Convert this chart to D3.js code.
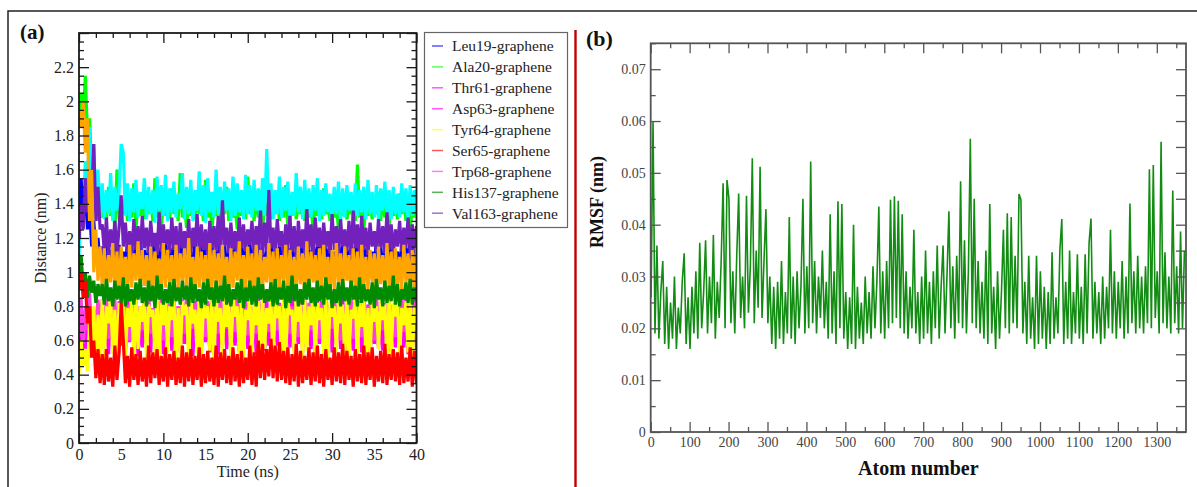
<!DOCTYPE html>
<html><head><meta charset="utf-8">
<script src="https://cdn.jsdelivr.net/npm/d3@7"></script>
<style>body{margin:0;background:#fff}svg{display:block}</style>
</head><body>
<svg id="c" width="1197" height="487"></svg>
<script>
// ---------------- Panel (a) data: distance (nm) vs time, sampled every 0.25 ns ----------------
const timeStep = 0.25;
const timeLabels = [0,5,10,15,20,25,30,35,40];
const timeMajorTicks = [0,10,20,30,40];
const distLabels = [0,0.2,0.4,0.6,0.8,1,1.2,1.4,1.6,1.8,2,2.2];

const ala20 = [1.85,2.05,1.90,2.15,1.80,1.90,1.60,1.40,1.55,1.30,1.45,
1.32,1.44,1.30,1.50,1.33,1.45,1.24,1.60,1.31,1.42,
1.34,1.47,1.30,1.40,1.32,1.52,1.25,1.43,1.33,1.41,
1.31,1.46,1.34,1.42,1.30,1.55,1.32,1.40,1.23,1.45,
1.33,1.39,1.31,1.49,1.34,1.42,1.30,1.58,1.32,1.40,
1.26,1.44,1.33,1.41,1.31,1.47,1.34,1.42,1.30,1.54,
1.32,1.43,1.24,1.40,1.33,1.46,1.31,1.41,1.34,1.50,
1.30,1.42,1.32,1.39,1.25,1.45,1.33,1.41,1.31,1.56,
1.34,1.40,1.30,1.44,1.32,1.48,1.23,1.41,1.33,1.43,
1.31,1.39,1.34,1.46,1.30,1.42,1.32,1.51,1.26,1.40,
1.33,1.44,1.31,1.41,1.34,1.47,1.30,1.42,1.32,1.39,
1.24,1.45,1.33,1.41,1.31,1.49,1.34,1.40,1.30,1.43,
1.32,1.40,1.25,1.46,1.33,1.42,1.31,1.39,1.34,1.44,
1.30,1.63,1.32,1.41,1.23,1.45,1.33,1.42,1.31,1.40,
1.34,1.47,1.30,1.43,1.32,1.40,1.26,1.44,1.33,1.41,
1.31,1.46,1.34,1.42,1.30,1.43,1.24,1.40,1.32,1.45];

const unlabeledCyan = [1.10,1.45,1.30,1.65,1.50,1.85,1.40,1.75,1.35,1.60,1.32,
1.52,1.31,1.48,1.34,1.58,1.30,1.50,1.36,1.47,1.75,
1.70,1.33,1.52,1.30,1.49,1.35,1.54,1.32,1.47,1.37,
1.55,1.31,1.50,1.34,1.48,1.29,1.56,1.36,1.51,1.33,
1.57,1.30,1.49,1.35,1.53,1.32,1.46,1.37,1.58,1.31,
1.50,1.34,1.54,1.30,1.48,1.36,1.59,1.33,1.51,1.29,
1.55,1.35,1.47,1.32,1.60,1.34,1.50,1.31,1.53,1.36,
1.49,1.30,1.56,1.33,1.52,1.35,1.48,1.31,1.57,1.34,
1.51,1.32,1.54,1.36,1.49,1.30,1.55,1.33,1.72,1.35,
1.52,1.31,1.48,1.34,1.56,1.32,1.50,1.36,1.53,1.30,
1.47,1.33,1.58,1.35,1.50,1.31,1.54,1.34,1.49,1.32,
1.51,1.36,1.55,1.30,1.48,1.33,1.52,1.35,1.46,1.31,
1.50,1.34,1.53,1.29,1.49,1.32,1.51,1.36,1.47,1.30,
1.52,1.33,1.48,1.35,1.50,1.31,1.54,1.34,1.47,1.32,
1.51,1.30,1.49,1.36,1.53,1.33,1.48,1.31,1.50,1.34,
1.46,1.32,1.52,1.35,1.49,1.30,1.51,1.33,1.48,1.32];

const leu19 = [1.20,1.55,1.30,1.50,1.25,1.40,1.15,1.30,1.10,1.20,1.05,
1.15,1.03,1.18,1.00,1.13,1.06,1.20,1.02,1.16,1.04,
1.12,1.01,1.19,1.05,1.14,0.99,1.17,1.03,1.21,1.06,
1.13,1.00,1.16,1.04,1.18,1.02,1.12,1.07,1.15,1.01,
1.19,1.03,1.14,1.05,1.17,0.98,1.13,1.04,1.20,1.02,
1.16,1.06,1.12,1.00,1.18,1.03,1.15,1.05,1.21,1.01,
1.14,1.04,1.17,0.99,1.13,1.06,1.19,1.02,1.16,1.03,
1.12,1.05,1.18,1.00,1.15,1.04,1.20,1.02,1.13,1.06,
1.17,1.01,1.14,1.03,1.19,1.05,1.12,0.99,1.16,1.04,
1.18,1.02,1.13,1.06,1.15,1.00,1.20,1.03,1.14,1.05,
1.17,1.01,1.12,1.04,1.19,1.02,1.16,1.06,1.13,0.99,
1.18,1.03,1.15,1.05,1.21,1.01,1.14,1.04,1.17,1.02,
1.12,1.06,1.19,1.00,1.16,1.03,1.13,1.05,1.18,1.01,
1.15,1.04,1.20,1.02,1.14,1.06,1.17,0.99,1.12,1.03,
1.19,1.05,1.16,1.01,1.13,1.04,1.18,1.02,1.15,1.06,
1.12,1.00,1.17,1.03,1.14,1.05,1.19,1.01,1.16,1.04];

const val163 = [1.20,1.40,1.25,1.55,1.35,1.60,1.45,1.75,1.30,1.50,1.25,
1.28,1.12,1.32,1.10,1.25,1.14,1.30,1.11,1.26,1.45,
1.15,1.29,1.12,1.24,1.09,1.31,1.13,1.27,1.10,1.33,
1.14,1.26,1.11,1.30,1.15,1.23,1.10,1.35,1.12,1.28,
1.16,1.25,1.11,1.32,1.13,1.27,1.09,1.29,1.14,1.24,
1.12,1.31,1.10,1.26,1.15,1.34,1.11,1.28,1.13,1.25,
1.09,1.30,1.14,1.27,1.12,1.33,1.10,1.42,1.15,1.26,
1.11,1.29,1.13,1.24,1.10,1.32,1.14,1.28,1.12,1.25,
1.16,1.30,1.11,1.27,1.13,1.36,1.10,1.29,1.12,1.48,
1.14,1.26,1.11,1.31,1.15,1.24,1.10,1.28,1.13,1.33,
1.12,1.27,1.09,1.30,1.14,1.25,1.11,1.37,1.13,1.28,
1.10,1.32,1.15,1.26,1.12,1.29,1.14,1.24,1.11,1.34,
1.13,1.27,1.10,1.31,1.15,1.25,1.12,1.30,1.09,1.36,
1.14,1.28,1.11,1.33,1.13,1.26,1.10,1.29,1.15,1.24,
1.12,1.31,1.14,1.27,1.11,1.35,1.13,1.28,1.10,1.25,
1.15,1.30,1.12,1.26,1.14,1.32,1.11,1.28,1.13,1.27];

const unlabeledOrange = [1.95,1.85,2.00,1.70,1.90,1.30,1.60,1.00,1.25,0.95,1.15,
0.92,1.14,0.89,1.10,0.94,1.17,0.90,1.12,0.87,1.15,
0.93,1.09,0.88,1.16,0.91,1.11,0.95,1.18,0.89,1.13,
0.92,1.10,0.86,1.15,0.90,1.12,0.94,1.08,0.88,1.17,
0.91,1.13,0.93,1.10,0.87,1.16,0.90,1.11,0.95,1.14,
0.89,1.20,0.92,1.09,0.88,1.15,0.91,1.12,0.94,1.10,
0.87,1.17,0.90,1.13,0.93,1.11,0.89,1.16,0.92,1.09,
0.86,1.14,0.91,1.12,0.95,1.18,0.88,1.10,0.90,1.15,
0.93,1.11,0.87,1.16,0.92,1.13,0.89,1.09,0.94,1.17,
0.90,1.12,0.88,1.14,0.91,1.10,0.95,1.16,0.87,1.13,
0.92,1.09,0.89,1.15,0.93,1.11,0.86,1.18,0.90,1.12,
0.94,1.10,0.88,1.14,0.91,1.16,0.92,1.09,0.87,1.13,
0.90,1.17,0.93,1.11,0.89,1.15,0.95,1.10,0.88,1.14,
0.91,1.12,0.86,1.16,0.92,1.09,0.90,1.13,0.94,1.11,
0.87,1.15,0.93,1.10,0.89,1.17,0.91,1.12,0.88,1.14,
0.92,1.09,0.90,1.16,0.94,1.11,0.87,1.13,0.91,1.15];

const thr61 = [0.55,0.80,0.50,0.75,0.58,0.82,0.60,0.72,0.65,0.80,0.62,
0.84,0.60,0.80,0.57,0.85,0.63,0.79,0.58,0.83,0.61,
0.81,0.56,0.86,0.62,0.78,0.59,0.84,0.64,0.80,0.57,
0.82,0.61,0.85,0.58,0.79,0.63,0.83,0.56,0.81,0.60,
0.86,0.62,0.78,0.59,0.84,0.57,0.80,0.64,0.82,0.58,
0.85,0.61,0.79,0.56,0.83,0.63,0.81,0.59,0.84,0.60,
0.80,0.57,0.86,0.62,0.78,0.58,0.83,0.64,0.81,0.56,
0.84,0.61,0.79,0.59,0.85,0.63,0.82,0.57,0.80,0.60,
0.83,0.62,0.78,0.58,0.86,0.56,0.81,0.64,0.84,0.59,
0.79,0.61,0.85,0.57,0.82,0.63,0.80,0.58,0.83,0.60,
0.86,0.56,0.81,0.62,0.78,0.59,0.84,0.64,0.80,0.57,
0.82,0.61,0.85,0.58,0.79,0.63,0.83,0.56,0.81,0.60,
0.84,0.62,0.80,0.59,0.86,0.57,0.78,0.64,0.82,0.58,
0.85,0.61,0.79,0.56,0.83,0.63,0.81,0.59,0.84,0.60,
0.80,0.57,0.86,0.62,0.78,0.58,0.83,0.64,0.81,0.56,
0.84,0.61,0.79,0.59,0.85,0.63,0.82,0.57,0.80,0.60];

const asp63 = [0.45,0.70,0.52,0.78,0.48,0.66,0.55,0.74,0.60,0.70,0.58,
0.78,0.55,0.74,0.52,0.80,0.58,0.76,0.54,0.71,0.57,
0.79,0.53,0.75,0.59,0.81,0.55,0.73,0.51,0.77,0.56,
0.74,0.58,0.80,0.53,0.76,0.55,0.72,0.57,0.79,0.52,
0.75,0.59,0.81,0.54,0.73,0.56,0.78,0.53,0.74,0.58,
0.80,0.55,0.76,0.51,0.72,0.57,0.79,0.54,0.75,0.59,
0.81,0.53,0.73,0.56,0.77,0.52,0.74,0.58,0.80,0.55,
0.76,0.54,0.71,0.57,0.78,0.53,0.75,0.59,0.82,0.55,
0.73,0.56,0.79,0.52,0.74,0.58,0.76,0.54,0.80,0.57,
0.72,0.53,0.77,0.59,0.75,0.55,0.81,0.51,0.73,0.56,
0.78,0.54,0.74,0.58,0.80,0.53,0.76,0.57,0.72,0.55,
0.79,0.52,0.75,0.59,0.81,0.54,0.73,0.56,0.77,0.53,
0.74,0.58,0.80,0.55,0.76,0.51,0.72,0.57,0.79,0.54,
0.75,0.59,0.81,0.53,0.73,0.56,0.78,0.52,0.74,0.58,
0.80,0.55,0.76,0.54,0.71,0.57,0.79,0.53,0.75,0.59,
0.82,0.55,0.73,0.56,0.77,0.52,0.74,0.58,0.80,0.55];

const trp68 = [0.62,0.85,0.58,0.80,0.66,0.88,0.60,0.78,0.68,0.84,0.65,
0.82,0.64,0.86,0.61,0.80,0.66,0.84,0.62,0.79,0.67,
0.85,0.63,0.81,0.60,0.87,0.65,0.83,0.62,0.80,0.66,
0.84,0.61,0.86,0.64,0.79,0.67,0.82,0.63,0.85,0.60,
0.81,0.65,0.87,0.62,0.83,0.66,0.80,0.61,0.84,0.64,
0.86,0.63,0.79,0.67,0.82,0.60,0.85,0.65,0.81,0.62,
0.83,0.66,0.87,0.61,0.80,0.64,0.84,0.63,0.86,0.67,
0.79,0.62,0.82,0.65,0.85,0.60,0.81,0.66,0.83,0.63,
0.87,0.61,0.80,0.64,0.84,0.67,0.86,0.62,0.79,0.65,
0.82,0.60,0.85,0.66,0.81,0.63,0.83,0.61,0.87,0.64,
0.80,0.67,0.84,0.62,0.86,0.65,0.79,0.60,0.82,0.66,
0.85,0.63,0.81,0.61,0.83,0.64,0.87,0.62,0.80,0.67,
0.84,0.65,0.86,0.60,0.79,0.63,0.82,0.66,0.85,0.61,
0.81,0.64,0.83,0.62,0.87,0.67,0.80,0.65,0.84,0.60,
0.86,0.63,0.79,0.66,0.82,0.61,0.85,0.64,0.81,0.62,
0.83,0.67,0.87,0.65,0.80,0.60,0.84,0.63,0.86,0.66];

const tyr64 = [0.40,0.60,0.45,0.55,0.42,0.70,0.50,0.80,0.45,0.75,0.50,
0.84,0.48,0.80,0.70,0.86,0.52,0.78,0.46,0.82,0.73,
0.85,0.50,0.79,0.68,0.83,0.47,0.86,0.55,0.80,0.71,
0.84,0.49,0.81,0.74,0.78,0.51,0.85,0.46,0.82,0.69,
0.86,0.53,0.80,0.72,0.84,0.48,0.79,0.50,0.83,0.75,
0.81,0.47,0.85,0.70,0.78,0.52,0.86,0.49,0.82,0.73,
0.80,0.54,0.84,0.46,0.83,0.71,0.79,0.50,0.85,0.68,
0.82,0.48,0.86,0.74,0.80,0.51,0.84,0.47,0.78,0.72,
0.85,0.53,0.81,0.69,0.83,0.49,0.86,0.55,0.79,0.70,
0.84,0.46,0.82,0.73,0.80,0.50,0.85,0.48,0.83,0.75,
0.78,0.52,0.86,0.71,0.81,0.47,0.84,0.54,0.80,0.69,
0.85,0.49,0.82,0.72,0.79,0.51,0.86,0.46,0.83,0.74,
0.80,0.53,0.84,0.70,0.81,0.48,0.85,0.50,0.78,0.73,
0.86,0.47,0.82,0.68,0.84,0.52,0.79,0.49,0.83,0.71,
0.80,0.55,0.85,0.72,0.81,0.46,0.86,0.51,0.82,0.74,
0.84,0.48,0.79,0.69,0.83,0.53,0.85,0.47,0.80,0.70];

const his137 = [0.95,1.10,0.90,1.00,0.85,0.98,0.88,0.95,0.82,0.93,0.86,
0.93,0.81,0.96,0.83,0.91,0.80,0.95,0.84,0.92,0.82,
0.97,0.80,0.93,0.83,0.90,0.81,0.94,0.84,0.96,0.82,
0.91,0.80,0.95,0.83,0.92,0.79,0.98,0.84,0.93,0.81,
0.90,0.82,0.94,0.80,0.96,0.83,0.91,0.81,0.95,0.84,
0.92,0.80,0.97,0.82,0.93,0.83,0.90,0.79,0.94,0.81,
0.96,0.84,0.91,0.80,0.95,0.82,0.92,0.83,0.98,0.81,
0.93,0.80,0.90,0.84,0.94,0.82,0.96,0.79,0.91,0.83,
0.95,0.81,0.92,0.80,0.97,0.84,0.93,0.82,0.90,0.83,
0.94,0.80,0.96,0.81,0.91,0.84,0.95,0.79,0.92,0.82,
0.98,0.83,0.93,0.80,0.90,0.81,0.94,0.84,0.96,0.82,
0.91,0.80,0.95,0.83,0.92,0.81,0.97,0.84,0.93,0.79,
0.90,0.82,0.94,0.80,0.96,0.83,0.91,0.81,0.95,0.84,
0.92,0.80,0.97,0.82,0.93,0.83,0.90,0.81,0.94,0.79,
0.96,0.84,0.91,0.80,0.95,0.82,0.92,0.83,0.98,0.81,
0.93,0.80,0.90,0.84,0.94,0.82,0.96,0.81,0.91,0.83];

const ser65 = [0.90,1.00,0.85,0.95,0.70,0.80,0.50,0.60,0.38,0.55,0.35,
0.52,0.34,0.55,0.36,0.50,0.33,0.57,0.37,0.53,0.82,
0.60,0.35,0.51,0.33,0.56,0.37,0.52,0.34,0.54,0.36,
0.50,0.33,0.57,0.35,0.53,0.38,0.55,0.34,0.51,0.36,
0.56,0.33,0.52,0.37,0.54,0.34,0.50,0.35,0.57,0.33,
0.53,0.36,0.55,0.34,0.51,0.37,0.56,0.33,0.52,0.35,
0.54,0.36,0.50,0.34,0.57,0.33,0.53,0.37,0.55,0.35,
0.51,0.34,0.56,0.36,0.52,0.33,0.54,0.35,0.50,0.37,
0.57,0.34,0.53,0.33,0.60,0.38,0.58,0.37,0.55,0.39,
0.61,0.38,0.57,0.36,0.59,0.37,0.54,0.35,0.56,0.34,
0.52,0.36,0.58,0.33,0.54,0.35,0.51,0.37,0.56,0.34,
0.53,0.36,0.57,0.35,0.52,0.33,0.55,0.37,0.50,0.34,
0.56,0.36,0.53,0.35,0.58,0.34,0.54,0.37,0.51,0.33,
0.55,0.36,0.52,0.35,0.57,0.34,0.53,0.37,0.56,0.33,
0.51,0.36,0.54,0.35,0.58,0.34,0.52,0.37,0.55,0.36,
0.53,0.34,0.57,0.35,0.50,0.36,0.56,0.33,0.54,0.35];

const legendNames = ["Leu19-graphene","Ala20-graphene","Thr61-graphene","Asp63-graphene","Tyr64-graphene","Ser65-graphene","Trp68-graphene","His137-graphene","Val163-graphene"];
const legendColors = ["#0000ff","#00ff00","#ff00ff","#ff00ff","#ffff00","#ff0000","#ff40e0","#008b00","#7221bc"];

// ---------------- Panel (b) data: RMSF (nm) vs atom number, every 5th atom from atom 1 ----------------
const rmsfFirstAtom = 1, rmsfAtomStep = 5;
const atomLabels = [0,100,200,300,400,500,600,700,800,900,1000,1100,1200,1300];
const rmsfLabels = [0,0.01,0.02,0.03,0.04,0.05,0.06,0.07];
const rmsf = [
0.026,0.060,0.019,0.036,0.018,0.027,0.033,0.017,0.028,0.016,
0.025,0.018,0.030,0.016,0.024,0.019,0.029,0.0345,0.017,0.026,
0.016,0.028,0.019,0.031,0.018,0.0365,0.020,0.027,0.037,0.019,
0.030,0.021,0.038,0.018,0.029,0.022,0.033,0.048,0.020,0.0486,
0.045,0.021,0.031,0.019,0.034,0.046,0.022,0.030,0.020,0.0456,
0.023,0.032,0.0528,0.021,0.035,0.024,0.0512,0.022,0.033,0.043,
0.021,0.030,0.017,0.028,0.016,0.029,0.018,0.033,0.017,0.027,
0.019,0.0415,0.018,0.030,0.017,0.031,0.020,0.028,0.045,0.019,
0.032,0.020,0.0522,0.021,0.033,0.019,0.030,0.022,0.035,0.020,
0.029,0.018,0.042,0.019,0.031,0.017,0.0445,0.020,0.044,0.018,
0.027,0.016,0.026,0.017,0.040,0.016,0.028,0.018,0.025,0.017,
0.030,0.019,0.027,0.018,0.032,0.020,0.029,0.0435,0.019,0.031,
0.018,0.033,0.020,0.0448,0.021,0.0455,0.022,0.0446,0.020,0.042,
0.019,0.031,0.018,0.028,0.020,0.039,0.019,0.027,0.017,0.030,
0.018,0.035,0.019,0.029,0.017,0.031,0.020,0.036,0.018,0.028,
0.036,0.019,0.030,0.0426,0.020,0.032,0.018,0.034,0.021,0.0484,
0.020,0.037,0.019,0.031,0.0566,0.021,0.045,0.020,0.033,0.019,
0.029,0.018,0.035,0.017,0.044,0.019,0.028,0.016,0.031,0.018,
0.027,0.039,0.020,0.0422,0.019,0.0415,0.021,0.034,0.020,0.0459,
0.0448,0.019,0.029,0.017,0.034,0.018,0.026,0.016,0.034,0.017,
0.031,0.018,0.028,0.016,0.027,0.017,0.0347,0.018,0.026,0.019,
0.035,0.0411,0.017,0.029,0.018,0.035,0.017,0.027,0.019,0.0343,
0.018,0.028,0.017,0.0343,0.019,0.0365,0.0412,0.018,0.029,0.019,
0.027,0.017,0.030,0.018,0.028,0.020,0.039,0.019,0.031,0.018,
0.029,0.020,0.033,0.018,0.030,0.019,0.0441,0.021,0.031,0.019,
0.034,0.020,0.030,0.019,0.032,0.021,0.0507,0.020,0.0515,0.022,
0.031,0.019,0.056,0.021,0.0347,0.020,0.030,0.019,0.0466,0.021,
0.032,0.019,0.0387,0.020,0.035];

// ---------------- drawing ----------------
const SERIF = "'Liberation Serif','Times New Roman',serif";
const svg = d3.select("#c");

// outer frame + divider
svg.append("path").attr("d","M8,487 L8,11 L1197,11").attr("fill","none").attr("stroke","#222").attr("stroke-width",1.5);
svg.append("line").attr("x1",575.5).attr("x2",575.5).attr("y1",30).attr("y2",487).attr("stroke","#c00000").attr("stroke-width",2.4);

// ===== Panel (a) =====
const A = {l:79, r:416.5, t:33, b:443};
const xA = d3.scaleLinear().domain([0,40]).range([A.l,A.r]);
const yA = d3.scaleLinear().domain([0,2.4]).range([A.b,A.t]);

svg.append("clipPath").attr("id","clipA").append("rect").attr("x",A.l).attr("y",A.t).attr("width",A.r-A.l).attr("height",A.b-A.t);

const drawOrder = [
  {values:ala20, color:"#00ff00"},
  {values:unlabeledCyan, color:"#00ffff"},
  {values:leu19, color:"#0000ff"},
  {values:val163, color:"#7221bc"},
  {values:unlabeledOrange, color:"#ffa500"},
  {values:thr61, color:"#ff00ff"},
  {values:asp63, color:"#ff00ff"},
  {values:trp68, color:"#ff40e0"},
  {values:tyr64, color:"#ffff00"},
  {values:his137, color:"#008b00"},
  {values:ser65, color:"#ff0000"}
];
const lineA = d3.line().x((d,i)=>xA(i*timeStep)).y(d=>yA(d));
const gLines = svg.append("g").attr("clip-path","url(#clipA)");
drawOrder.forEach(s=>{
  gLines.append("path").datum(s.values).attr("d",lineA)
    .attr("fill","none").attr("stroke",s.color).attr("stroke-width",3.2).attr("stroke-linejoin","bevel");
});

function styleAxis(g, color, fontSize){
  g.select(".domain").remove();
  g.selectAll("line").attr("stroke",color).attr("stroke-width",1.3);
  g.selectAll("text").attr("font-family",SERIF).attr("font-size",fontSize).attr("fill",color);
}
const xMinorA = d3.range(0,40.001,2).filter(v=>v%10!==0);
const yMajorA = d3.range(0,2.401,0.2).map(v=>+v.toFixed(2));
const yMinorA = d3.range(0,2.401,0.05).map(v=>+v.toFixed(2)).filter(v=>Math.abs(v/0.2-Math.round(v/0.2))>1e-6);

function tickSet(axisGen, scale, vals, size, tx, ty, color){
  const g = svg.append("g").attr("transform",`translate(${tx},${ty})`)
    .call(axisGen(scale).tickValues(vals).tickSizeInner(-size).tickSizeOuter(0).tickFormat(""));
  styleAxis(g,color,10);
}
const axColA = "#1a1a1a";
tickSet(d3.axisBottom,xA,timeMajorTicks,10,0,A.b,axColA);
tickSet(d3.axisBottom,xA,xMinorA,5,0,A.b,axColA);
tickSet(d3.axisTop,xA,timeMajorTicks,10,0,A.t,axColA);
tickSet(d3.axisTop,xA,xMinorA,5,0,A.t,axColA);
tickSet(d3.axisLeft,yA,yMajorA,10,A.l,0,axColA);
tickSet(d3.axisLeft,yA,yMinorA,5,A.l,0,axColA);
tickSet(d3.axisRight,yA,yMajorA,10,A.r,0,axColA);
tickSet(d3.axisRight,yA,yMinorA,5,A.r,0,axColA);

const gxA = svg.append("g").attr("transform",`translate(0,${A.b})`)
  .call(d3.axisBottom(xA).tickValues(timeLabels).tickSize(0).tickPadding(6).tickFormat(d=>String(d)));
styleAxis(gxA,"#222",16);
const gyA = svg.append("g").attr("transform",`translate(${A.l},0)`)
  .call(d3.axisLeft(yA).tickValues(distLabels).tickSize(0).tickPadding(5).tickFormat(d=>String(+d.toFixed(1))));
styleAxis(gyA,"#222",16);

svg.append("rect").attr("x",A.l).attr("y",A.t).attr("width",A.r-A.l).attr("height",A.b-A.t)
  .attr("fill","none").attr("stroke",axColA).attr("stroke-width",1.8);

svg.append("text").attr("x",(A.l+A.r)/2).attr("y",477).attr("text-anchor","middle")
  .attr("font-family",SERIF).attr("font-size",16).attr("fill","#222").text("Time (ns)");
svg.append("text").attr("transform",`translate(46,${(A.t+A.b)/2}) rotate(-90)`).attr("text-anchor","middle")
  .attr("font-family",SERIF).attr("font-size",16).attr("fill","#222").text("Distance (nm)");
svg.append("text").attr("x",20).attr("y",39).attr("font-family",SERIF).attr("font-size",21)
  .attr("font-weight","bold").attr("fill","#111").text("(a)");

// legend
const leg = svg.append("g");
leg.append("rect").attr("x",424.5).attr("y",32.5).attr("width",143).attr("height",195)
  .attr("fill","#fff").attr("stroke","#666").attr("stroke-width",1.2);
legendNames.forEach((n,k)=>{
  const y = 46 + k*20.9;
  leg.append("line").attr("x1",432).attr("x2",443).attr("y1",y).attr("y2",y)
    .attr("stroke",legendColors[k]).attr("stroke-width",1.5).attr("opacity",0.65);
  leg.append("text").attr("x",452).attr("y",y).attr("dy","0.35em")
    .attr("font-family",SERIF).attr("font-size",15.5).attr("fill","#222").text(n);
});

// ===== Panel (b) =====
const B = {l:650.7, r:1186, t:43.3, b:432};
const xB = d3.scaleLinear().domain([0,1375]).range([B.l,B.r]);
const yB = d3.scaleLinear().domain([0,0.075]).range([B.b,B.t]);

svg.append("clipPath").attr("id","clipB").append("rect").attr("x",B.l).attr("y",B.t).attr("width",B.r-B.l).attr("height",B.b-B.t);
const lineB = d3.line().x((d,i)=>xB(rmsfFirstAtom + i*rmsfAtomStep)).y(d=>yB(d));
svg.append("g").attr("clip-path","url(#clipB)").append("path").datum(rmsf).attr("d",lineB)
  .attr("fill","none").attr("stroke","#128c12").attr("stroke-width",1.6).attr("stroke-linejoin","bevel");

const axColB = "#555";
const xMajorB = d3.range(0,1375,100);
const xMinorB = d3.range(50,1375,100);
const yMajorB = d3.range(0,0.0751,0.01).map(v=>+v.toFixed(3));
const yMinorB = d3.range(0.005,0.0751,0.01).map(v=>+v.toFixed(3));
tickSet(d3.axisBottom,xB,xMajorB,10,0,B.b,axColB);
tickSet(d3.axisBottom,xB,xMinorB,5,0,B.b,axColB);
tickSet(d3.axisTop,xB,xMajorB,10,0,B.t,axColB);
tickSet(d3.axisTop,xB,xMinorB,5,0,B.t,axColB);
tickSet(d3.axisLeft,yB,yMajorB,10,B.l,0,axColB);
tickSet(d3.axisLeft,yB,yMinorB,5,B.l,0,axColB);
tickSet(d3.axisRight,yB,yMajorB,10,B.r,0,axColB);
tickSet(d3.axisRight,yB,yMinorB,10,B.r,0,axColB);

const gxB = svg.append("g").attr("transform",`translate(0,${B.b})`)
  .call(d3.axisBottom(xB).tickValues(atomLabels).tickSize(0).tickPadding(5).tickFormat(d=>String(d)));
styleAxis(gxB,"#444",14);
const gyB = svg.append("g").attr("transform",`translate(${B.l},0)`)
  .call(d3.axisLeft(yB).tickValues(rmsfLabels).tickSize(0).tickPadding(5).tickFormat(d=>d===0?"0":d.toFixed(2)));
styleAxis(gyB,"#444",14);

svg.append("rect").attr("x",B.l).attr("y",B.t).attr("width",B.r-B.l).attr("height",B.b-B.t)
  .attr("fill","none").attr("stroke",axColB).attr("stroke-width",1.8);

svg.append("text").attr("x",(B.l+B.r)/2).attr("y",475).attr("text-anchor","middle")
  .attr("font-family",SERIF).attr("font-size",20).attr("font-weight","bold").attr("fill","#111").text("Atom number");
svg.append("text").attr("transform",`translate(603,202) rotate(-90)`).attr("text-anchor","middle")
  .attr("font-family",SERIF).attr("font-size",18).attr("font-weight","bold").attr("fill","#111").text("RMSF (nm)");
svg.append("text").attr("x",586).attr("y",46).attr("font-family",SERIF).attr("font-size",22)
  .attr("font-weight","bold").attr("fill","#111").text("(b)");
</script>
</body></html>
